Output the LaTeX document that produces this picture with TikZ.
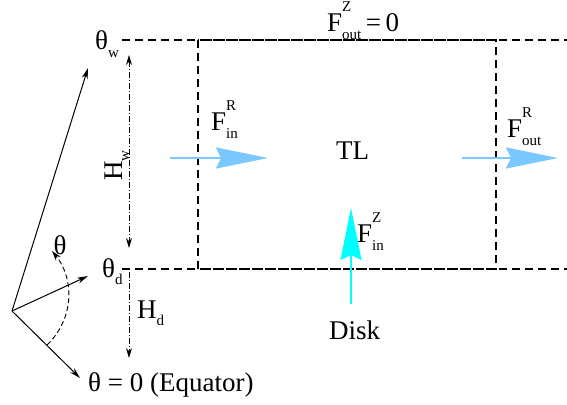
\documentclass[tikz,border=0pt]{standalone}
\usepackage{fontspec}
\setmainfont{Liberation Serif}
\usetikzlibrary{arrows.meta}
\definecolor{fluxblue}{RGB}{122,200,255}
\definecolor{diskcyan}{RGB}{0,255,255}
\newcommand{\subfnt}{\fontsize{15}{15}\selectfont}
\newcommand{\flux}[2]{F\rlap{\raisebox{20pt}{\subfnt #1}}\raisebox{-8pt}{\subfnt #2}}
\newcommand{\angl}[1]{θ\raisebox{-7pt}{\subfnt #1}}
\tikzset{
  lbl/.style={inner sep=0pt, font=\fontsize{27}{32}\selectfont},
  level/.style={line width=1.1pt, dash pattern=on 8pt off 5pt},
  height/.style={line width=0.9pt, dash pattern=on 6pt off 2pt on 1pt off 2pt,
    {Stealth[length=10pt,width=6pt]}-{Stealth[length=10pt,width=6pt]}},
  vec/.style={line width=1pt, -{Stealth[length=11pt,width=6pt]}},
  bigflux/.style={line width=2.2pt, -{Stealth[length=52pt,width=21pt,inset=5pt]}}
}
\begin{document}
\begin{tikzpicture}[x=1pt,y=-1pt]
\useasboundingbox (0,0) rectangle (567,404);
% levels and box
\coordinate (wl) at (122,40);  \coordinate (wr) at (567,40);
\coordinate (dl) at (122,269); \coordinate (dr) at (567,269);
\draw[level] (wl) -- (wr);
\draw[level] (dl) -- (dr);
\draw[level] (198,40) rectangle (496,269);
% labels
\node[lbl, anchor=base west] (thw) at (95,50) {\angl{w}};
\node[lbl, anchor=base west] (thd) at (102,277) {\angl{d}};
\node[lbl, anchor=base west, rotate=90] (hw) at (122,181) {H\raisebox{-7pt}{\subfnt w}};
\node[lbl, anchor=base west] (hd) at (137,318) {H\raisebox{-7pt}{\subfnt d}};
\node[lbl] (th) at (60,245) {θ};
\node[lbl, anchor=base west] (eq) at (88,391) {θ = 0 (Equator)};
\node[lbl, anchor=base west] (tl) at (336,159) {TL};
\node[lbl, anchor=base west] (disk) at (329,339) {Disk};
\node[lbl, anchor=base west] (fri) at (211,130) {\flux{R}{in}};
\node[lbl, anchor=base west] (fro) at (507,137) {\flux{R}{out}};
\node[lbl, anchor=base west] (fzo) at (327,32) {\flux{Z}{out}\,=\,0};
\node[lbl, anchor=base west] (fzi) at (357,242) {\flux{Z}{in}};
% heights
\coordinate (hw1) at (129,55);  \coordinate (hw2) at (129,248);
\coordinate (hd1) at (129,272); \coordinate (hd2) at (129,358);
\draw[height] (hw1) -- (hw2);
\draw[height, {-Stealth[length=10pt,width=6pt]}] (hd1) -- (hd2);
% angles
\coordinate (O) at (12,311);
\coordinate (wtip) at (88,68);
\coordinate (dtip) at (88,276);
\coordinate (etip) at (80,378);
\draw[vec] (O) -- (wtip);
\draw[vec] (O) -- (dtip);
\draw[vec] (O) -- (etip);
\draw[line width=0.9pt, dash pattern=on 5pt off 3pt, -{Stealth[length=10pt,width=6pt]}]
  (47,345) .. controls (75,318) and (74,278) .. (52,251);
% fluxes
\coordinate (fri1) at (170,158); \coordinate (fri2) at (268,158);
\coordinate (fro1) at (462,158); \coordinate (fro2) at (558,158);
\coordinate (fzi1) at (351,304); \coordinate (fzi2) at (351,208);
\draw[bigflux, fluxblue] (fri1) -- (fri2);
\draw[bigflux, fluxblue] (fro1) -- (fro2);
\draw[bigflux, diskcyan] (fzi1) -- (fzi2);
\end{tikzpicture}
\end{document}
